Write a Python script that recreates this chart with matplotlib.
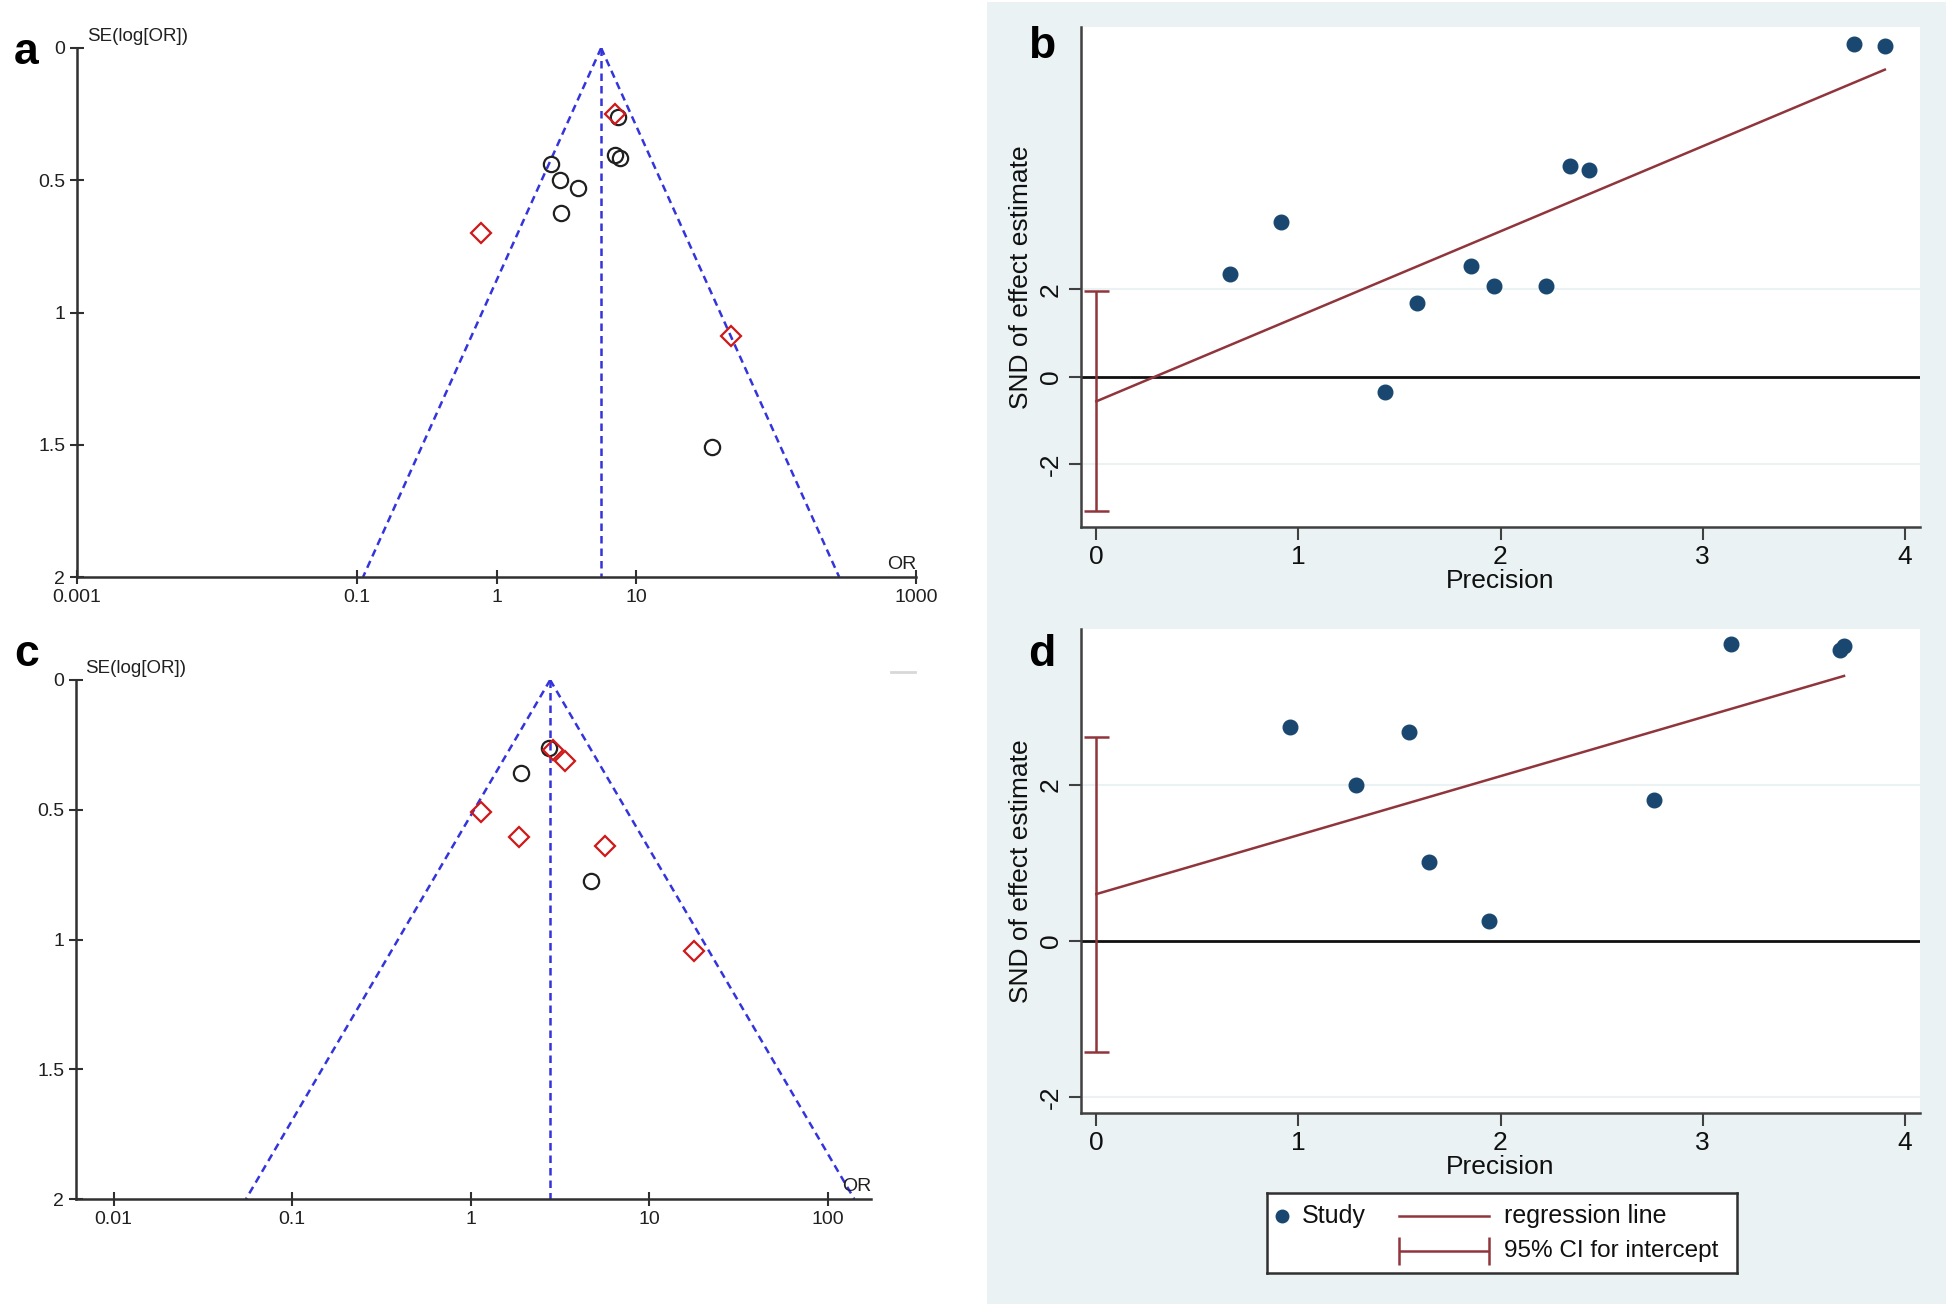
import matplotlib
matplotlib.use('Agg')
import numpy as np
import matplotlib.pyplot as plt
from matplotlib import font_manager
from matplotlib.patches import Rectangle
from matplotlib.ticker import NullLocator

# ---- data ----
# panel a: funnel plot (OR, SE of log OR)
a_circle_or = [7.41, 7.05, 7.66, 2.47, 2.85, 3.85, 2.91, 34.7]
a_circle_se = [0.26, 0.404, 0.415, 0.44, 0.50, 0.53, 0.625, 1.51]
a_diamond_or = [7.05, 0.77, 47.2]
a_diamond_se = [0.25, 0.70, 1.09]
a_pooled = 5.6
a_xticks = [0.001, 0.1, 1, 10, 1000]
a_xticklabels = ['0.001', '0.1', '1', '10', '1000']

# panel c: funnel plot
c_circle_or = [2.74, 1.91, 4.73]
c_circle_se = [0.263, 0.358, 0.775]
c_diamond_or = [2.88, 3.35, 1.14, 1.85, 5.61, 17.7]
c_diamond_se = [0.27, 0.312, 0.509, 0.604, 0.64, 1.044]
c_pooled = 2.78
c_xticks = [0.01, 0.1, 1, 10, 100]
c_xticklabels = ['0.01', '0.1', '1', '10', '100']

se_ticks = [0, 0.5, 1, 1.5, 2]
se_ticklabels = ['0', '0.5', '1', '1.5', '2']

# panel b: Egger test (precision, SND)
b_precision = [0.663, 0.916, 1.429, 1.588, 1.856, 1.969, 2.226, 2.345, 2.437, 3.747, 3.902]
b_snd = [2.35, 3.55, -0.344, 1.69, 2.53, 2.08, 2.07, 4.83, 4.73, 7.64, 7.58]
b_intercept = -0.567
b_slope = 1.95
b_ci = [-3.08, 1.97]

# panel d
d_precision = [0.956, 1.285, 1.548, 1.646, 1.942, 2.76, 3.14, 3.68, 3.70]
d_snd = [2.74, 1.99, 2.67, 1.01, 0.25, 1.80, 3.80, 3.72, 3.77]
d_intercept = 0.60
d_slope = 0.754
d_ci = [-1.42, 2.61]

# ---- style ----
names = {f.name for f in font_manager.fontManager.ttflist}
NARROW = 'Liberation Sans Narrow' if 'Liberation Sans Narrow' in names else 'Liberation Sans'
plt.rcParams['font.family'] = [NARROW, 'DejaVu Sans']

NAVY = '#1a476f'
MAROON = '#90353b'
BG = '#eaf2f3'
BLUE = '#3434dc'
RED = '#d01818'

fig = plt.figure(figsize=(19.46, 13.07), dpi=100)
fig.patches.append(Rectangle((987 / 1946, 3 / 1307), 1 - 987 / 1946, 1 - 5 / 1307,
                             transform=fig.transFigure, facecolor=BG, edgecolor='none', zorder=-5))


def funnel(ax, c_or, c_se, d_or, d_se, pooled, xlim, xticks, xlabels):
    se = np.array([0, 2])
    ax.plot([pooled, pooled], se, ls=(0, (3, 2)), color=BLUE, lw=1.8)
    ax.plot(pooled * np.exp(-1.96 * se), se, ls=(0, (3, 2)), color=BLUE, lw=1.8)
    ax.plot(pooled * np.exp(1.96 * se), se, ls=(0, (3, 2)), color=BLUE, lw=1.8)
    ax.plot(c_or, c_se, 'o', mfc='none', mec='#202020', mew=1.6, ms=11, ls='none')
    ax.plot(d_or, d_se, 'D', mfc='none', mec=RED, mew=1.6, ms=10, ls='none')
    ax.set_xscale('log')
    ax.set_xlim(xlim)
    ax.set_ylim(2, 0)
    ax.set_xticks(xticks)
    ax.set_xticklabels(xlabels)
    ax.xaxis.set_minor_locator(NullLocator())
    ax.set_yticks(se_ticks)
    ax.set_yticklabels(se_ticklabels)
    for s in ['top', 'right']:
        ax.spines[s].set_visible(False)
    for s in ['left', 'bottom']:
        ax.spines[s].set_color('#303030')
        ax.spines[s].set_linewidth(1.8)
    ax.tick_params(direction='inout', length=10, width=1.5, color='#303030',
                   labelsize=14, labelcolor='#202020')
    ax.patch.set_alpha(0)
    ax.text(0.012, 1.005, 'SE(log[OR])', transform=ax.transAxes, fontsize=13.5,
            ha='left', va='bottom', color='#202020')
    ax.text(1.0, 0.008, 'OR', transform=ax.transAxes, fontsize=14,
            ha='right', va='bottom', color='#202020')


ax_a = fig.add_axes([77 / 1946, 1 - 577 / 1307, 839 / 1946, 529 / 1307])
funnel(ax_a, a_circle_or, a_circle_se, a_diamond_or, a_diamond_se, a_pooled,
       (0.001, 1000), a_xticks, a_xticklabels)

ax_c = fig.add_axes([76 / 1946, 1 - 1199 / 1307, 795 / 1946, 519 / 1307])
funnel(ax_c, c_circle_or, c_circle_se, c_diamond_or, c_diamond_se, c_pooled,
       (10 ** -2.21, 10 ** 2.24), c_xticks, c_xticklabels)


def egger(ax, prec, snd, icpt, slope, ci, ylim):
    ax.set_facecolor('white')
    for yv in [-2, 2]:
        ax.axhline(yv, color=BG, lw=1.5, zorder=0)
    ax.axhline(0, color='#101010', lw=2, zorder=1)
    xs = np.array([0, max(prec)])
    ax.plot(xs, icpt + slope * xs, color=MAROON, lw=1.8, zorder=2)
    ax.errorbar([0], [np.mean(ci)], yerr=[[np.mean(ci) - ci[0]], [ci[1] - np.mean(ci)]],
                fmt='none', ecolor=MAROON, elinewidth=1.8, capsize=9, capthick=1.8, zorder=2)
    ax.plot(prec, snd, 'o', color=NAVY, ms=10.5, ls='none', zorder=3)
    ax.set_xlim(-0.076, 4.076)
    ax.set_ylim(ylim)
    ax.set_xticks([0, 1, 2, 3, 4])
    ax.set_yticks([-2, 0, 2])
    ax.set_yticklabels(['-2', '0', '2'], rotation=90, va='center')
    for s in ['top', 'right']:
        ax.spines[s].set_visible(False)
    for s in ['left', 'bottom']:
        ax.spines[s].set_color('#404040')
        ax.spines[s].set_linewidth(1.8)
    ax.tick_params(direction='out', length=9, width=1.5, color='#404040',
                   labelsize=19, labelcolor='#101010', pad=4)
    ax.set_xlabel('Precision', fontsize=19, labelpad=0, color='#101010')
    ax.set_ylabel('SND of effect estimate', fontsize=19, labelpad=4, color='#101010')


ax_b = fig.add_axes([1081 / 1946, 1 - 527 / 1307, 839 / 1946, 500 / 1307])
egger(ax_b, b_precision, b_snd, b_intercept, b_slope, b_ci, (-3.45, 8.02))

ax_d = fig.add_axes([1081 / 1946, 1 - 1113 / 1307, 839 / 1946, 484 / 1307])
egger(ax_d, d_precision, d_snd, d_intercept, d_slope, d_ci, (-2.2, 3.99))

# legend box drawn by hand (Stata style, two columns)
lg = fig.add_axes([1267 / 1946, 1 - 1273 / 1307, 470 / 1946, 80 / 1307])
lg.set_xlim(0, 1)
lg.set_ylim(0, 1)
lg.set_xticks([])
lg.set_yticks([])
for s in lg.spines.values():
    s.set_color('#303030')
    s.set_linewidth(1.8)
lg.plot([0.032], [0.71], 'o', color=NAVY, ms=9)
lg.text(0.074, 0.71, 'Study', fontsize=18, va='center', color='#101010')
lg.plot([0.281, 0.472], [0.71, 0.71], color=MAROON, lw=1.8)
lg.text(0.504, 0.71, 'regression line', fontsize=18, va='center', color='#101010')
lg.errorbar([0.3765], [0.275], xerr=[[0.0955]], fmt='none', ecolor=MAROON,
            elinewidth=1.8, capsize=10, capthick=1.8)
lg.text(0.504, 0.275, '95% CI for intercept', fontsize=17.5, va='center', color='#101010')

# small grey dash artefact near panel c
fig.add_artist(plt.Line2D([891 / 1946, 915 / 1946], [1 - 672 / 1307, 1 - 672 / 1307],
                          color='#d8d8d8', lw=2))

# panel letters
for lab, x, y in [('a', 14, 52), ('c', 14, 655), ('b', 1028, 47), ('d', 1028, 655)]:
    fig.text(x / 1946, 1 - y / 1307, lab, fontsize=32, fontweight='bold',
             family='Liberation Sans', ha='left', va='center')

fig.savefig('out.png', dpi=100)
